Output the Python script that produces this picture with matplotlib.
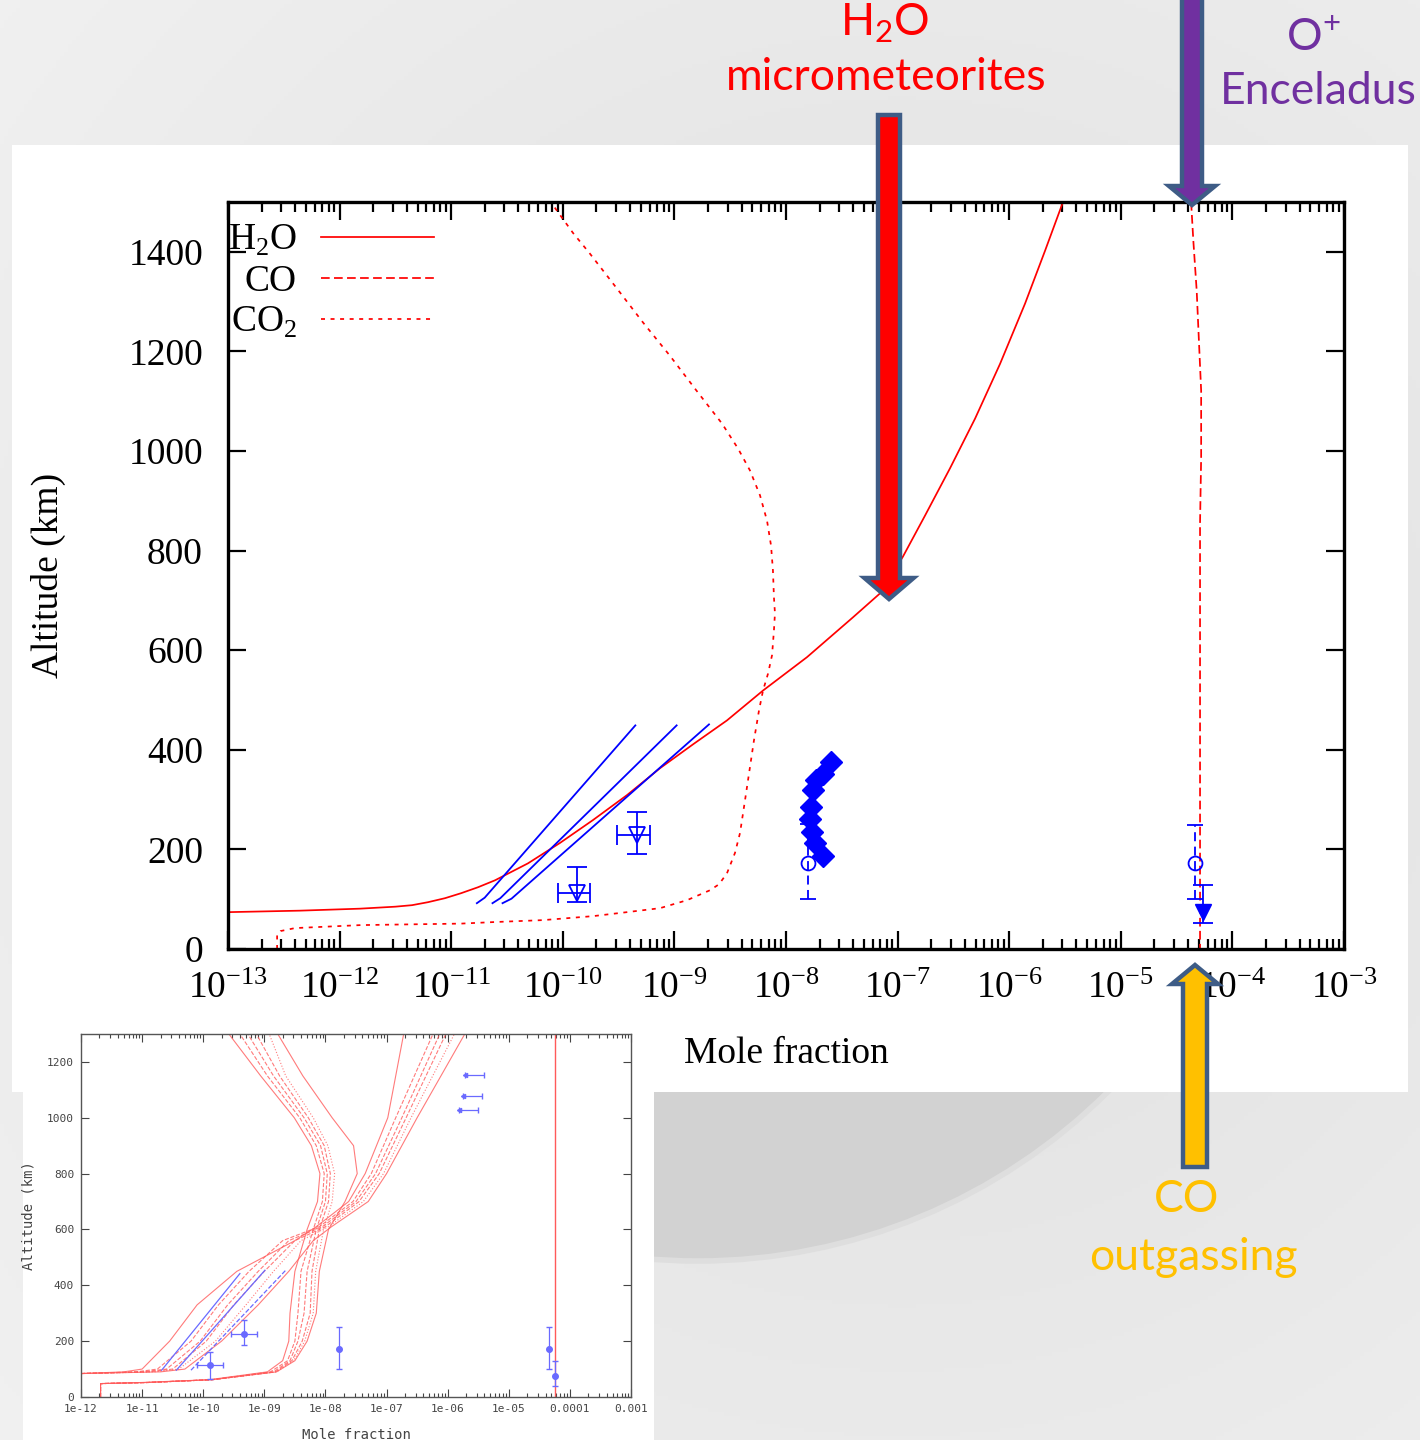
import numpy as np
import matplotlib
matplotlib.use("Agg")
import matplotlib.pyplot as plt
from matplotlib.patches import Polygon, Circle, Rectangle
from matplotlib.ticker import LogLocator, NullFormatter, FixedLocator, FixedFormatter

W, H = 1420, 1440

# ---- main panel: log10(mole fraction) vs altitude (km) ----
h2o_logx = [-13.0, -12.355, -11.817, -11.50, -11.351, -11.208, -11.056, -10.912, -10.76, -10.607,
            -10.312, -10.025, -9.729, -9.425, -9.129, -8.833, -8.529, -8.206, -7.812, -7.400,
            -7.158, -6.952, -6.755, -6.531, -6.306, -6.082, -5.858, -5.679, -5.518]
h2o_alt = [74, 77, 81, 85, 88, 94, 102, 112, 124, 138,
           172, 213, 259, 309, 363, 411, 459, 519, 586, 666,
           714, 788, 870, 965, 1065, 1175, 1296, 1402, 1500]

co_logx = [-4.37, -4.35, -4.32, -4.30, -4.28, -4.28, -4.29, -4.29]
co_alt = [1500, 1422, 1322, 1221, 1121, 987, 854, 0]

co2_logx = [-12.56, -12.56, -12.53, -12.40, -11.81, -10.912, -10.625, -10.177, -9.729, -9.425,
            -9.129, -8.887, -8.681, -8.60, -8.529, -8.457, -8.412, -8.367, -8.323, -8.287,
            -8.242, -8.206, -8.161, -8.125, -8.108, -8.099, -8.108, -8.117, -8.134, -8.170,
            -8.233, -8.323, -8.430, -8.573, -8.815, -9.039, -9.281, -9.514, -9.756, -9.909,
            -10.070, -10.115]
co2_alt = [0, 28, 36, 42, 48, 51, 54, 58, 66, 74,
           82, 98, 118, 130, 152, 193, 233, 299, 365, 419,
           479, 519, 553, 590, 640, 674, 706, 760, 810, 860,
           911, 961, 1005, 1055, 1125, 1191, 1258, 1326, 1396, 1438,
           1488, 1500]

blue_logx = [[-10.77, -10.70, -9.35], [-10.63, -10.56, -8.98], [-10.54, -10.46, -8.69]]
blue_alt = [[92, 103, 449], [92, 102, 449], [92, 101, 451]]

tri_x = [1.33e-10, 4.6e-10]
tri_alt = [112, 229]
tri_xlo = [9.1e-11, 3.05e-10]
tri_xhi = [1.75e-10, 6.0e-10]
tri_alo = [95, 190]
tri_ahi = [165, 275]

circ_x = [1.58e-8, 4.6e-5]
circ_alt = [173, 172]
circ_alo = [100, 100]
circ_ahi = [251, 249]

dia_x = [2.16e-8, 1.82e-8, 1.70e-8, 1.64e-8, 1.66e-8, 1.73e-8, 1.86e-8, 2.16e-8, 2.55e-8]
dia_alt = [186, 212, 235, 262, 285, 319, 339, 352, 376]

ftri_x = [5.4e-5]
ftri_alt = [75]
ftri_alo = [53]
ftri_ahi = [128]

# ---- inset (older model runs) ----
in_h2o_alt = [84, 90, 100, 200, 330, 450, 560, 610, 700, 800, 1000, 1300]
in_h2o_logx = [
    [-12.0, -11.3, -11.0, -10.55, -10.1, -9.45, -8.5, -8.15, -7.62, -7.35, -6.98, -6.72],
    [-12.0, -11.1, -10.75, -10.2, -9.75, -9.25, -8.7, -8.1, -7.55, -7.25, -6.85, -6.24],
    [-12.0, -11.0, -10.6, -10.05, -9.6, -9.1, -8.6, -8.05, -7.5, -7.18, -6.75, -6.13],
    [-12.0, -10.9, -10.5, -9.95, -9.5, -9.0, -8.5, -8.0, -7.45, -7.12, -6.68, -6.03],
    [-12.0, -10.8, -10.4, -9.8, -9.3, -8.85, -8.4, -7.95, -7.38, -7.05, -6.6, -5.89],
    [-12.0, -10.7, -10.3, -9.7, -9.1, -8.6, -8.2, -7.9, -7.3, -7.0, -6.5, -5.72],
]
in_co2_alt = [0, 48, 52, 62, 90, 130, 200, 300, 450, 600, 700, 800, 900, 1000, 1150, 1300]
in_co2_logx = [
    [-11.68, -11.68, -11.0, -9.9, -8.95, -8.70, -8.60, -8.58, -8.50, -8.30, -8.13, -8.09, -8.23, -8.51, -9.06, -9.58],
    [-11.68, -11.68, -10.9, -9.85, -8.90, -8.62, -8.50, -8.45, -8.40, -8.20, -8.05, -8.02, -8.15, -8.42, -8.95, -9.40],
    [-11.68, -11.68, -10.9, -9.85, -8.85, -8.58, -8.45, -8.35, -8.30, -8.15, -8.00, -7.97, -8.08, -8.35, -8.85, -9.27],
    [-11.68, -11.68, -10.9, -9.85, -8.82, -8.55, -8.38, -8.25, -8.22, -8.10, -7.95, -7.92, -8.02, -8.28, -8.75, -9.13],
    [-11.68, -11.68, -10.9, -9.85, -8.80, -8.52, -8.34, -8.20, -8.16, -8.03, -7.89, -7.85, -7.96, -8.20, -8.65, -8.92],
    [-11.68, -11.68, -10.9, -9.85, -8.80, -8.50, -8.30, -8.15, -8.10, -7.95, -7.68, -7.48, -7.54, -7.89, -8.37, -8.78],
]
in_styles = ['-', '--', '--', '--', ':', '-']
in_co_logx = -4.25

in_blue_logx = [[-10.68, -9.40], [-10.44, -8.99], [-10.20, -8.65]]
in_blue_alt = [[96, 442], [96, 454], [96, 454]]

in_pt_logx = [-9.885, -9.335, -7.785, -4.34, -4.25]
in_pt_alt = [113, 227, 173, 173, 74]
in_pt_xerr = [0.21, 0.21, 0.0, 0.0, 0.0]
in_pt_alo = [66, 185, 101, 101, 40]
in_pt_ahi = [161, 275, 251, 251, 130]

in_lim_logx = [-5.72, -5.75, -5.82]
in_lim_hi = [-5.41, -5.44, -5.51]
in_lim_alt = [1152, 1077, 1027]

plt.rcParams['font.family'] = ['Liberation Serif', 'DejaVu Serif']

fig = plt.figure(figsize=(W / 100, H / 100), dpi=100)


def px_axes(left, top, right, bottom):
    return [left / W, 1 - bottom / H, (right - left) / W, (bottom - top) / H]


# background (slide)
bg = fig.add_axes([0, 0, 1, 1])
bg.set_xlim(0, W)
bg.set_ylim(H, 0)
bg.axis('off')
yy, xx = np.mgrid[0:H:4, 0:W:4]
rr = np.hypot(xx - 900, yy - 700) / 1000
bg.imshow(0.87 + 0.06 * rr, cmap='gray', vmin=0, vmax=1, extent=[0, W, H, 0], zorder=0)
disc = Circle((698, 680), 581, fc='#d2d2d2', ec='#dedede', lw=4, zorder=1)
bg.add_patch(disc)
disc.set_clip_path(Rectangle((0, 1092), W, H - 1092, transform=bg.transData))
bg.add_patch(Rectangle((12, 145), 1396, 947, fc='white', ec='none', zorder=2))
bg.add_patch(Rectangle((23, 1080), 631, 370, fc='white', ec='none', zorder=2))

# main chart
ax = fig.add_axes(px_axes(228, 202, 1344, 949))
ax.set_facecolor('white')
ax.plot(10 ** np.array(h2o_logx), h2o_alt, color='red', lw=1.25, label=r'H$_\mathregular{2}$O')
ax.plot(10 ** np.array(co_logx), co_alt, color='red', lw=1.25, dashes=(5, 2.5), label='CO')
ax.plot(10 ** np.array(co2_logx), co2_alt, color='red', lw=1.25, dashes=(2.3, 3.2), label=r'CO$_\mathregular{2}$')

for lx, la in zip(blue_logx, blue_alt):
    ax.plot(10 ** np.array(lx), la, color='blue', lw=1.3)

tx = np.array(tri_x)
ta = np.array(tri_alt)
ax.errorbar(tx, ta, xerr=[tx - np.array(tri_xlo), np.array(tri_xhi) - tx],
            yerr=[ta - np.array(tri_alo), np.array(tri_ahi) - ta],
            fmt='v', mfc='none', mec='blue', ecolor='blue', ms=11, mew=1.3,
            capsize=7, elinewidth=1.3, capthick=1.3)

ca = np.array(circ_alt)
eb = ax.errorbar(circ_x, ca, yerr=[ca - np.array(circ_alo), np.array(circ_ahi) - ca],
                 fmt='o', mfc='none', mec='blue', ecolor='blue', ms=10, mew=1.3,
                 capsize=6, elinewidth=1.3, capthick=1.3)
eb[2][0].set_linestyle((0, (5, 3)))

ax.plot(dia_x, dia_alt, 'D', color='blue', ms=11)

fa = np.array(ftri_alt)
ax.errorbar(ftri_x, fa, yerr=[fa - np.array(ftri_alo), np.array(ftri_ahi) - fa],
            fmt='v', color='blue', ms=11, capsize=7, elinewidth=1.3, capthick=1.3)

ax.set_xscale('log')
ax.set_xlim(1e-13, 1e-3)
ax.set_ylim(0, 1500)
ax.xaxis.set_major_locator(LogLocator(base=10, numticks=30))
ax.xaxis.set_minor_locator(LogLocator(base=10, subs=np.arange(2, 10), numticks=200))
ax.xaxis.set_minor_formatter(NullFormatter())
ax.set_yticks(np.arange(0, 1401, 200))
ax.tick_params(which='both', direction='in', top=True, right=True, width=1.6, labelsize=27)
ax.tick_params(which='major', length=13)
ax.tick_params(which='minor', length=7)
ax.tick_params(axis='y', pad=18)
ax.tick_params(axis='x', pad=16)
for s in ax.spines.values():
    s.set_linewidth(2.4)

ax.set_xlabel('Mole fraction', fontsize=27)
ax.set_ylabel('Altitude (km)', fontsize=27)
ax.xaxis.set_label_coords(0.5, -0.117)
ax.yaxis.set_label_coords(-0.145, 0.5)

leg = ax.legend(loc='upper left', bbox_to_anchor=(-0.007, 0.982), markerfirst=False, frameon=False,
                fontsize=27, handlelength=3.0, handletextpad=0.65, labelspacing=0.16,
                borderpad=0.2, borderaxespad=0)

# inset chart
ai = fig.add_axes(px_axes(81, 1034, 631, 1397))
ai.set_facecolor('white')
for lx, st in zip(in_h2o_logx, in_styles):
    ai.plot(10 ** np.array(lx), in_h2o_alt, color='#ff5a5a', lw=0.8, ls=st, alpha=0.8)
for lx, st in zip(in_co2_logx, in_styles):
    ai.plot(10 ** np.array(lx), in_co2_alt, color='#ff5a5a', lw=0.8, ls=st, alpha=0.8)
ai.plot([10 ** in_co_logx] * 2, [0, 1300], color='#ff5a5a', lw=1.0)
for (lx, la), st in zip(zip(in_blue_logx, in_blue_alt), ['-', '-', '--']):
    ai.plot(10 ** np.array(lx), la, color='#6a6aff', lw=0.9, ls=st)

px = 10 ** np.array(in_pt_logx)
pxe = np.array(in_pt_xerr)
pa = np.array(in_pt_alt)
ai.errorbar(px, pa, xerr=[px - px / 10 ** pxe, px * 10 ** pxe - px],
            yerr=[pa - np.array(in_pt_alo), np.array(in_pt_ahi) - pa],
            fmt='o', color='#6a6aff', ms=4, capsize=2.5, elinewidth=0.9)
lx0 = 10 ** np.array(in_lim_logx)
lx1 = 10 ** np.array(in_lim_hi)
ai.errorbar(lx0, in_lim_alt, xerr=[np.zeros(3), lx1 - lx0], fmt='<', color='#6a6aff',
            ms=3, capsize=2.5, elinewidth=0.9)

ai.set_xscale('log')
ai.set_xlim(1e-12, 1e-3)
ai.set_ylim(0, 1300)
dec = 10.0 ** np.arange(-12, -2)
ai.xaxis.set_major_locator(FixedLocator(dec))
ai.xaxis.set_major_formatter(FixedFormatter(['1e-12', '1e-11', '1e-10', '1e-09', '1e-08',
                                             '1e-07', '1e-06', '1e-05', '0.0001', '0.001']))
ai.xaxis.set_minor_locator(LogLocator(base=10, subs=np.arange(2, 10), numticks=200))
ai.xaxis.set_minor_formatter(NullFormatter())
ai.set_yticks(np.arange(0, 1201, 200))
ai.tick_params(which='both', direction='in', top=True, right=True, width=0.8,
               labelsize=8, colors='#444444', pad=5)
ai.tick_params(which='major', length=6)
ai.tick_params(which='minor', length=3)
for lab in ai.get_xticklabels() + ai.get_yticklabels():
    lab.set_family('DejaVu Sans Mono')
for s in ai.spines.values():
    s.set_linewidth(1.0)
    s.set_color('#555555')
ai.set_xlabel('Mole fraction', fontsize=10, family='DejaVu Sans Mono', color='#444444', labelpad=10)
ai.set_ylabel('Altitude (km)', fontsize=10, family='DejaVu Sans Mono', color='#444444', labelpad=8)

# overlay: arrows and labels
ov = fig.add_axes([0, 0, 1, 1])
ov.set_xlim(0, W)
ov.set_ylim(H, 0)
ov.axis('off')
ov.patch.set_alpha(0)


def block_arrow(xc, y_start, y_base, y_tip, sw, hw, color):
    verts = [(xc - sw, y_start), (xc + sw, y_start), (xc + sw, y_base), (xc + hw, y_base),
             (xc, y_tip), (xc - hw, y_base), (xc - sw, y_base)]
    ov.add_patch(Polygon(verts, closed=True, fc=color, ec='#3e5c86', lw=3.2, joinstyle='miter'))


block_arrow(889, 115, 578, 599, 11, 24.5, '#ff0000')
block_arrow(1192, -10, 186, 205, 10, 23, '#7030a0')
block_arrow(1195, 1167, 984, 965, 12, 23, '#ffc000')

tkw = dict(family=['Lato', 'DejaVu Sans'], ha='center', va='center', fontsize=32)
ov.text(885, 23, r'H$_\mathregular{2}$O', color='#ff0000', **tkw)
ov.text(886, 78, 'micrometeorites', color='#ff0000', **tkw)
ov.text(1313, 37, r'O$^\mathregular{+}$', color='#7030a0', **tkw)
ov.text(1318, 92, 'Enceladus', color='#7030a0', **tkw)
ov.text(1187, 1200, 'CO', color='#ffc000', **tkw)
ov.text(1193, 1257, 'outgassing', color='#ffc000', **tkw)

fig.savefig('out.png', dpi=100)
